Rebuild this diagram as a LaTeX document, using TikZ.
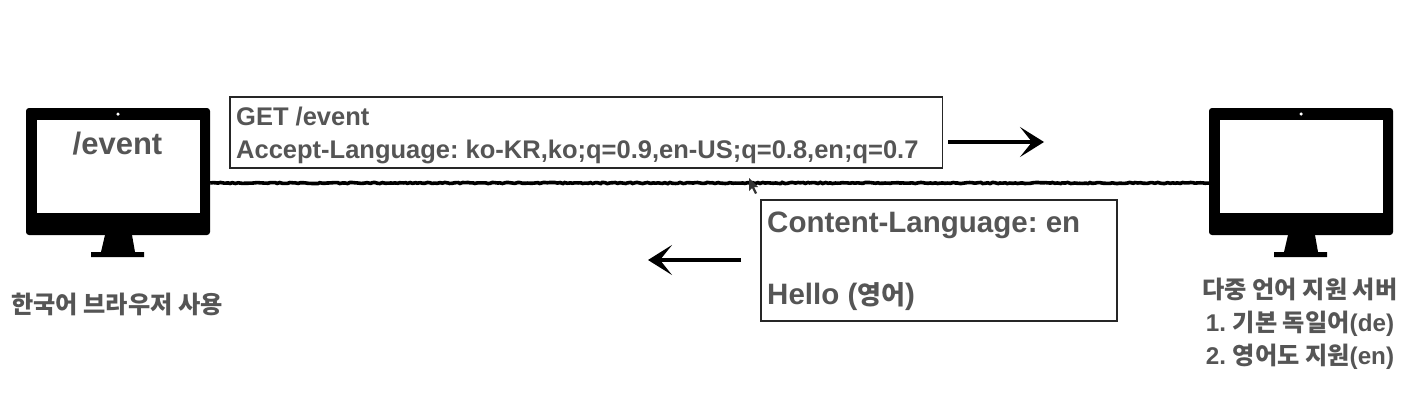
\documentclass[tikz,border=0pt]{standalone}
\usepackage{fontspec}
\setmainfont{Liberation Sans}
\newfontfamily\krfont{Noto Sans CJK KR}
\usetikzlibrary{arrows.meta,positioning,decorations.pathmorphing}
\definecolor{textgray}{HTML}{555555}
\newcommand{\kr}[1]{{\krfont #1}}
\frenchspacing

\begin{document}
\begin{tikzpicture}[x=1pt, y=-1pt, >={Stealth[length=24pt, width=30pt, inset=12pt]},
  body/.style={fill=black, rounded corners=3pt, inner sep=0pt,
    minimum width=184pt, minimum height=127pt},
  screen/.style={fill=white, inner sep=0pt, minimum width=163pt, minimum height=93pt},
  msgbox/.style={draw=black!85, line width=1.6pt, anchor=north west, inner sep=0pt},
  msgtext/.style={anchor=west, align=left, inner sep=0pt, text=textgray},
  label/.style={text=textgray, align=center, font=\bfseries\fontsize{24.2}{33}\selectfont},
  rough/.style={draw=black, line width=3.6pt, decorate,
    decoration={random steps, segment length=2.5pt, amplitude=0.6pt}}]
  \useasboundingbox (0,0) rectangle (1418,410);

  % monitors
  \foreach \name/\cx in {client/118, server/1301} {
    \node[body] (\name) at (\cx,171.5) {};
    \node[screen] (\name-screen) at (\cx,166.5) {};
    \node[fill=white, circle, inner sep=0pt, minimum size=3.5pt] (\name-cam) at (\cx,114) {};
    \fill (\cx-13,235) -- (\cx+14,235) -- (\cx+17,252) -- (\cx+26,252) -- (\cx+26,257)
      -- (\cx-27,257) -- (\cx-27,252) -- (\cx-17,252) -- cycle;
  }

  \node[text=textgray, font=\bfseries\fontsize{31}{33}\selectfont] (path) at (117.5,144) {/event};
  \node[label] (clientlabel) at (117,304) {\kr{한국어 브라우저 사용}};
  \node[label, anchor=north] (serverlabel) at (1300,274.5)
    {\kr{다중 언어 지원 서버}\\1. \kr{기본 독일어}(de)\\2. \kr{영어도 지원}(en)};

  % messages
  \node[msgbox, minimum width=712.5pt, minimum height=71pt] (request) at (229,96) {};
  \node[msgtext, font=\bfseries\fontsize{25.5}{33}\selectfont] (requesttext) at (236,135.5)
    {GET /event\\Accept-Language: ko-KR,ko;q=0.9,en-US;q=0.8,en;q=0.7};
  \node[msgbox, minimum width=356pt, minimum height=121pt] (response) at (760,199) {};
  \node[msgtext, font=\bfseries\fontsize{29.5}{36}\selectfont] (responsetext) at (767,261.5)
    {Content-Language: en\\[36pt]Hello ({\krfont\fontsize{26}{36}\selectfont 영어})};

  % connection
  \path[rough] (client.east |- 0,183) -- (server.west |- 0,183);

  % arrows
  \coordinate (reqtail) at (948,142);
  \coordinate (reqhead) at (1044,142);
  \coordinate (resptail) at (741,260);
  \coordinate (resphead) at (648,260);
  \draw[->, line width=3.6pt] (reqtail) -- (reqhead);
  \draw[->, line width=3.6pt] (resptail) -- (resphead);

  % cursor
  \fill[black!80] (749,178) -- (749,191) -- (752,188) -- (755,194) -- (757,193) -- (754,187) -- (758,187) -- cycle;
\end{tikzpicture}
\end{document}
